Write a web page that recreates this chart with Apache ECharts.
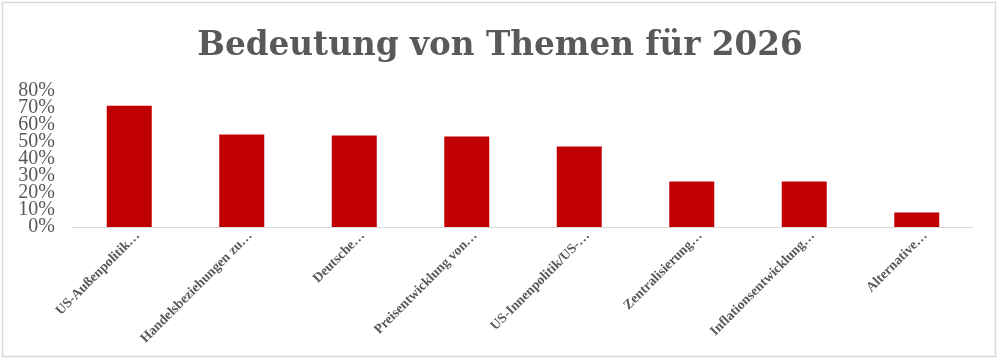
<!DOCTYPE html>
<html>
<head>
<meta charset="utf-8">
<script src="https://cdn.jsdelivr.net/npm/echarts@6/dist/echarts.min.js"></script>
<style>
html,body{margin:0;padding:0;background:#fff;}
#chart{width:1000px;height:362px;}
</style>
</head>
<body>
<div id="chart"></div>
<script>
var titleText = 'Bedeutung von Themen für 2026';
var categories = ['US-Außenpolitik…', 'Handelsbeziehungen zu…', 'Deutsche…', 'Preisentwicklung von…', 'US-Innenpolitik/US-…', 'Zentralisierung…', 'Inflationsentwicklung…', 'Alternative…'];
var values = [0.713, 0.544, 0.538, 0.532, 0.474, 0.267, 0.267, 0.085];
var yTicks = [0, 0.1, 0.2, 0.3, 0.4, 0.5, 0.6, 0.7, 0.8];

function pct(v) { return Math.round(v * 100); }
var yLabelStyle = {fontFamily: 'Liberation Serif', fontSize: 20, color: '#595959'};

var chart = echarts.init(document.getElementById('chart'), null, {renderer: 'canvas'});
chart.setOption({
  backgroundColor: '#ffffff',
  animation: false,
  title: {
    text: titleText,
    left: 'center',
    top: 25,
    textStyle: {fontFamily: 'DejaVu Serif', fontWeight: 'bold', fontSize: 32.7, color: '#595959'}
  },
  graphic: [{
    type: 'rect',
    shape: {x: 2.5, y: 2.5, width: 993, height: 354},
    style: {fill: 'none', stroke: '#d9d9d9', lineWidth: 1.5},
    silent: true
  }],
  grid: {left: 73, right: 27, top: 91, bottom: 135, containLabel: false},
  xAxis: {
    type: 'category',
    data: categories,
    axisLine: {show: true, lineStyle: {color: '#d9d9d9', width: 1}},
    axisTick: {show: false},
    axisLabel: {
      rotate: 45,
      interval: 0,
      margin: -2,
      padding: [5, 0, 0, 0],
      verticalAlign: 'top',
      fontFamily: 'Liberation Serif',
      fontWeight: 'bold',
      fontSize: 13.7,
      color: '#595959'
    }
  },
  yAxis: [{
    type: 'value',
    position: 'left',
    min: yTicks[0],
    max: yTicks[yTicks.length - 1],
    interval: 0.1,
    splitLine: {show: false},
    axisLine: {show: false},
    axisTick: {show: false},
    axisLabel: Object.assign({
      margin: 18,
      showMinLabel: true,
      showMaxLabel: true,
      formatter: function (v) { return pct(v) % 20 === 0 ? pct(v) + '%' : ''; }
    }, yLabelStyle)
  }, {
    type: 'value',
    position: 'left',
    min: yTicks[0],
    max: yTicks[yTicks.length - 1],
    interval: 0.1,
    splitLine: {show: false},
    axisLine: {show: false},
    axisTick: {show: false},
    axisLabel: Object.assign({
      margin: 18,
      showMinLabel: false,
      showMaxLabel: false,
      formatter: function (v) { return pct(v) % 20 !== 0 ? pct(v) + '%' : ''; }
    }, yLabelStyle)
  }],
  series: [{
    type: 'bar',
    yAxisIndex: 0,
    data: values,
    barWidth: '40%',
    itemStyle: {color: '#C00000'}
  }]
});
</script>
</body>
</html>
